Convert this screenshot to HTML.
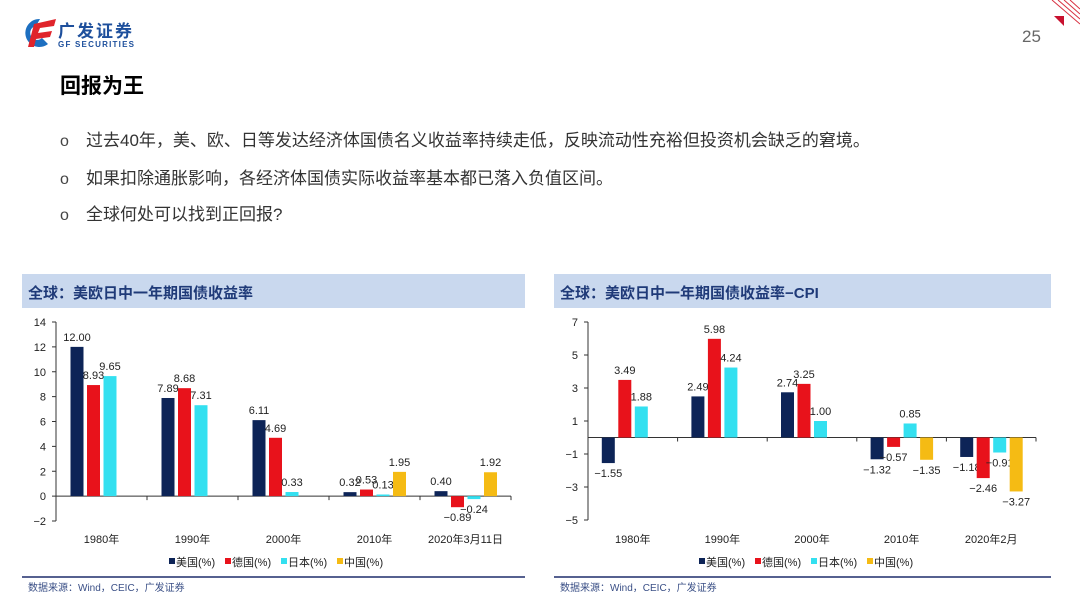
<!DOCTYPE html>
<html><head><meta charset="utf-8">
<style>
body{margin:0;width:1080px;height:607px;background:#fff;overflow:hidden;position:relative;font-family:"Liberation Sans","Noto Sans CJK SC",sans-serif}
.abs{position:absolute}
.bul{position:absolute;left:60px;font-size:17px;color:#333;white-space:nowrap}
.bul span{display:inline-block;width:26px;font-size:16px;color:#444}
</style></head><body>
<svg class="abs" style="left:0;top:0" width="1080" height="607">
  <g>
    <path d="M40 19 A14 14 0 1 0 48 44 L42 38 A7 7 0 1 1 36 26 Z" fill="#1d6fc0"/>
    <path d="M34 24 L56 19 L54 26 L40 28 L38 33 L52 31 L50 37 L36 39 L34 47 L28 47 Z" fill="#e0242b"/>
    <text x="58" y="37" font-size="17" font-weight="bold" fill="#1d4f9c" textLength="74" font-family="Liberation Sans,Noto Sans CJK SC,sans-serif">广发证券</text>
    <text x="58" y="47" font-size="8" font-weight="bold" fill="#1d4f9c" textLength="76" font-family="Liberation Sans,sans-serif">GF SECURITIES</text>
  </g>
  <polygon points="1054,16 1064,16 1064,26" fill="#c8102e"/>
  <g stroke="#d83040" stroke-width="1">
    <line x1="1052" y1="0" x2="1080" y2="24"/><line x1="1058" y1="0" x2="1080" y2="19"/><line x1="1064" y1="0" x2="1080" y2="14"/><line x1="1070" y1="0" x2="1080" y2="9"/>
  </g>
  <text x="1022" y="42" font-size="17" fill="#666">25</text>
</svg>
<div class="abs" style="left:60px;top:70px;font-size:21px;font-weight:bold;color:#000">回报为王</div>
<div class="bul" style="top:126px"><span>o</span>过去40年，美、欧、日等发达经济体国债名义收益率持续走低，反映流动性充裕但投资机会缺乏的窘境。</div>
<div class="bul" style="top:164px"><span>o</span>如果扣除通胀影响，各经济体国债实际收益率基本都已落入负值区间。</div>
<div class="bul" style="top:200px"><span>o</span>全球何处可以找到正回报?</div>

<svg id="chart" class="abs" style="left:0;top:0" width="1080" height="607"></svg>
<script>
const categoriesA=["1980年","1990年","2000年","2010年","2020年3月11日"];
const usA=[12.00,7.89,6.11,0.32,0.40];
const deA=[8.93,8.68,4.69,0.53,-0.89];
const jpA=[9.65,7.31,0.33,0.13,-0.24];
const cnA=[null,null,null,1.95,1.92];
const ticksA=[-2,0,2,4,6,8,10,12,14];

const categoriesB=["1980年","1990年","2000年","2010年","2020年2月"];
const usB=[-1.55,2.49,2.74,-1.32,-1.18];
const deB=[3.49,5.98,3.25,-0.57,-2.46];
const jpB=[1.88,4.24,1.00,0.85,-0.91];
const cnB=[null,null,null,-1.35,-3.27];
const ticksB=[-5,-3,-1,1,3,5,7];

const seriesNames=["美国(%)","德国(%)","日本(%)","中国(%)"];
const colors=["#0d2457","#e8121b","#33e0f0","#f5bb14"];
const NS="http://www.w3.org/2000/svg";
const svg=document.getElementById("chart");
function mk(tag,attrs,parent){const e=document.createElementNS(NS,tag);for(const k in attrs)e.setAttribute(k,attrs[k]);(parent||svg).appendChild(e);return e;}

function drawChart(cfg){
  const g=mk("g",{});
  
  
  const hdr=mk("rect",{x:cfg.hx,y:274,width:cfg.hw,height:34,fill:"#c9d8ee"},g);
  
  
  const t=mk("text",{x:cfg.hx+6,y:298,"font-size":15,"font-weight":"bold",fill:"#1f3a78"},g);
  t.textContent=cfg.title;
  
  
  const ymin=cfg.ticks[0],ymax=cfg.ticks[cfg.ticks.length-1];
  const Y=v=>cfg.top+(ymax-v)/(ymax-ymin)*(cfg.bottom-cfg.top);
  const cw=(cfg.right-cfg.left)/cfg.cats.length;
  const X=i=>cfg.left+cw*(i+0.5);
  mk("line",{x1:cfg.left,y1:cfg.top,x2:cfg.left,y2:cfg.bottom,stroke:"#333","stroke-width":1},g);
  cfg.ticks.forEach(tv=>{
    mk("line",{x1:cfg.left-4,y1:Y(tv),x2:cfg.left,y2:Y(tv),stroke:"#333"},g);
    const tx=mk("text",{x:cfg.left-10,y:Y(tv)+4,"font-size":11,"text-anchor":"end",fill:"#222"},g);
    tx.textContent=tv<0?"−"+(-tv):tv;
    
    
  });
  mk("line",{x1:cfg.left,y1:Y(0),x2:cfg.right,y2:Y(0),stroke:"#333"},g);
  for(let i=0;i<=cfg.cats.length;i++) mk("line",{x1:cfg.left+cw*i,y1:Y(0),x2:cfg.left+cw*i,y2:Y(0)+4,stroke:"#333"},g);
  cfg.cats.forEach((c,i)=>{
    const tx=mk("text",{x:X(i),y:543,"font-size":11,"text-anchor":"middle",fill:"#222"},g);
    tx.textContent=c;
    
    
  });
  const bw=13,step=16.5;
  cfg.series.forEach((s,si)=>{
    s.forEach((v,i)=>{
      if(v===null)return;
      const x=X(i)-31+si*step;
      const y0=Y(Math.max(v,0)),y1=Y(Math.min(v,0));
      const r=mk("rect",{x:x,y:y0,width:bw,height:Math.max(y1-y0,0.5),fill:colors[si]},g);
      
      
      const ly=v>=0?Y(v)-6:Y(v)+14;
      const l=mk("text",{x:x+bw/2,y:ly,"font-size":11,"text-anchor":"middle",fill:"#222"},g);
      l.textContent=(v<0?"−":"")+Math.abs(v).toFixed(2);
      
      
    });
  });
  let lx=cfg.legendX;
  seriesNames.forEach((n,si)=>{
    const sq=mk("rect",{x:lx,y:558,width:6,height:6,fill:colors[si]},g);
    
    
    const tx=mk("text",{x:lx+7,y:566,"font-size":11,fill:"#222"},g);
    tx.textContent=n;
    
    
    lx+=56;
  });
  mk("line",{x1:cfg.hx,y1:577,x2:cfg.hx+cfg.hw,y2:577,stroke:"#1f2d6b","stroke-width":1.5},g);
  const src=mk("text",{x:cfg.hx+6,y:591,"font-size":10,fill:"#3a4f86"},g);
  src.textContent="数据来源：Wind，CEIC，广发证券";
  
  
}
drawChart({name:"chart-nominal-yield",key:"a",title:"全球：美欧日中一年期国债收益率",hx:22,hw:503,left:56,right:511,top:322,bottom:521,ticks:ticksA,cats:categoriesA,series:[usA,deA,jpA,cnA],legendX:169});
drawChart({name:"chart-real-yield",key:"b",title:"全球：美欧日中一年期国债收益率−CPI",hx:554,hw:497,left:588,right:1036,top:322,bottom:520,ticks:ticksB,cats:categoriesB,series:[usB,deB,jpB,cnB],legendX:699});
</script>
</body></html>
